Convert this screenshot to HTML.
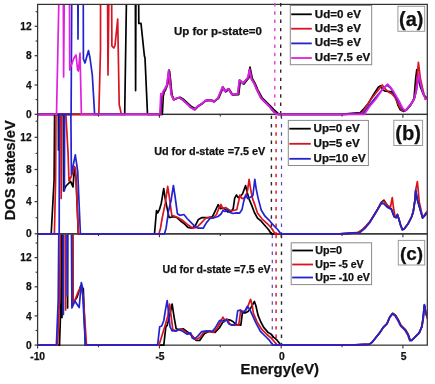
<!DOCTYPE html>
<html><head><meta charset="utf-8"><style>
html,body{margin:0;padding:0;background:#fff;}
svg{display:block;will-change:transform;}
text{font-family:"Liberation Sans",sans-serif;font-weight:bold;fill:#111;stroke:#111;stroke-width:0.25px;}
.tl{font-size:10px;}
.ax{font-size:13.5px;}
.an{font-size:11.5px;}
.an2{font-size:11px;}
.lg{font-size:10.5px;}
.lt{font-size:19px;}
</style></head><body>
<svg width="435" height="384" viewBox="0 0 435 384">
<rect width="435" height="384" fill="#fff"/>
<defs>
<clipPath id="clipa"><rect x="38.2" y="5.0" width="388.5" height="112.0"/></clipPath>
<clipPath id="clipb"><rect x="38.2" y="115.0" width="388.5" height="121.44999999999999"/></clipPath>
<clipPath id="clipc"><rect x="38.2" y="234.45" width="388.5" height="113.29999999999998"/></clipPath>
</defs>
<rect x="37.6" y="4.4" width="389.7" height="110.0" fill="none" stroke="#333333" stroke-width="1.25"/>
<rect x="37.6" y="114.4" width="389.7" height="119.44999999999999" fill="none" stroke="#333333" stroke-width="1.25"/>
<rect x="37.6" y="233.85" width="389.7" height="111.29999999999998" fill="none" stroke="#333333" stroke-width="1.25"/>
<line x1="274.8" y1="3.0" x2="274.8" y2="113.5" stroke="#e040e0" stroke-width="1.4" stroke-dasharray="3.4,4.9"/>
<line x1="280.7" y1="3.0" x2="280.7" y2="113.5" stroke="#2a2a2a" stroke-width="1.4" stroke-dasharray="3.4,4.9"/>
<line x1="271.4" y1="115.7" x2="271.4" y2="233.2" stroke="#2a2a2a" stroke-width="1.4" stroke-dasharray="3.4,4.9"/>
<line x1="276.1" y1="115.7" x2="276.1" y2="233.2" stroke="#e0303c" stroke-width="1.6" stroke-dasharray="3.4,4.9"/>
<line x1="281.5" y1="115.7" x2="281.5" y2="233.2" stroke="#4a4ad0" stroke-width="1.2" stroke-dasharray="3.4,4.9"/>
<line x1="272.3" y1="234.9" x2="272.3" y2="344.6" stroke="#4a4ad0" stroke-width="1.2" stroke-dasharray="3.4,4.9"/>
<line x1="276.1" y1="234.9" x2="276.1" y2="344.6" stroke="#e0303c" stroke-width="1.6" stroke-dasharray="3.4,4.9"/>
<line x1="281.5" y1="234.9" x2="281.5" y2="344.6" stroke="#2a2a2a" stroke-width="1.4" stroke-dasharray="3.4,4.9"/>
<g clip-path="url(#clipa)">
<polyline points="37.5,114.4 124.7,114.4 126.9,-30.0 135.3,-30.0 135.6,90.6 136.0,-30.0 138.5,-30.0 138.8,23.4 141.0,23.4 144.4,56.0 145.0,58.0 147.5,114.4 162.3,114.4 163.3,96.0 164.2,92.0 165.5,90.0 167.5,85.0 169.5,71.0 170.5,79.5 172.0,95.0 174.2,99.8 176.4,98.4 180.0,97.2 183.0,99.0 188.0,103.5 191.8,106.8 195.4,108.8 198.5,105.8 202.7,103.2 206.3,100.3 211.4,100.1 214.4,101.4 218.8,97.8 223.2,87.5 225.7,91.8 229.1,89.2 232.6,94.8 238.7,94.7 240.3,81.0 242.0,82.4 243.8,84.2 248.9,77.8 250.0,67.1 252.4,78.8 255.0,83.2 257.6,89.3 261.9,97.5 266.2,101.8 270.5,106.2 274.8,110.5 279.2,114.4 340.0,114.4 360.3,112.5 364.0,108.5 368.1,103.8 373.6,94.4 378.3,87.3 380.6,85.8 383.0,89.7 385.3,91.2 388.2,91.3 392.3,92.1 395.5,96.9 397.9,105.0 400.3,109.8 403.5,111.5 406.8,109.8 410.8,105.0 414.0,98.5 415.6,79.2 416.8,69.5 418.1,77.6 420.5,87.3 423.7,95.3 428.0,98.5" fill="none" stroke="#000000" stroke-width="1.7" stroke-linejoin="round" stroke-linecap="round"/>
<polyline points="37.5,114.4 98.8,114.4 100.5,50.0 100.6,-30.0 107.4,-30.0 108.0,75.0 109.2,-30.0 111.5,-30.0 111.9,46.0 113.8,48.0 115.0,45.5 117.7,19.0 119.2,104.5 121.4,114.4 161.0,114.4 161.8,99.0 162.5,95.0 164.0,91.3 165.5,89.0 167.5,84.5 169.2,70.2 170.2,79.0 171.6,94.5 173.8,99.5 176.0,98.8 179.6,97.8 182.6,99.6 187.7,104.0 191.3,107.6 195.0,109.8 197.9,106.6 202.3,103.7 205.9,100.7 211.0,100.3 214.0,101.8 218.4,98.3 223.0,87.1 225.3,91.4 228.7,88.8 232.2,94.5 238.2,94.0 239.9,80.2 241.6,81.9 243.4,83.6 248.5,77.6 249.9,69.0 252.0,79.3 254.6,83.6 257.2,89.7 261.5,98.3 265.8,102.6 270.1,106.9 274.4,112.1 278.3,114.4 345.0,114.4 361.9,113.0 366.0,107.0 371.3,99.0 375.5,93.5 379.8,88.1 382.2,85.0 385.3,88.9 388.4,92.0 392.0,94.0 395.0,97.5 397.5,102.5 399.8,107.5 402.5,110.8 405.5,110.5 409.0,106.5 412.5,102.0 415.0,97.0 416.6,84.0 418.4,62.3 420.3,78.0 422.5,88.0 425.3,99.4 428.0,96.5" fill="none" stroke="#d81420" stroke-width="1.7" stroke-linejoin="round" stroke-linecap="round"/>
<polyline points="37.5,114.4 71.1,114.4 71.9,-30.0 77.7,-30.0 78.0,39.0 78.4,-30.0 83.2,-30.0 83.4,59.0 85.0,63.0 88.5,50.6 90.0,58.0 92.3,75.0 93.5,95.0 94.6,114.4 160.5,114.4 161.2,98.0 162.0,95.0 163.5,91.5 165.0,89.0 167.0,84.5 168.8,70.0 169.8,79.0 171.3,94.5 173.5,99.5 175.6,98.8 179.2,97.8 182.2,99.6 187.3,104.0 190.9,107.6 194.6,109.8 197.5,106.6 201.9,103.7 205.5,100.7 210.6,100.3 213.6,101.8 218.0,98.3 222.6,87.1 224.9,91.4 228.3,88.8 231.8,94.5 237.8,94.0 239.5,80.2 241.2,81.9 243.0,83.6 248.1,77.6 249.5,69.5 251.6,79.3 254.2,83.6 256.8,89.7 261.1,98.3 265.4,102.6 269.7,106.9 274.0,112.1 277.5,114.4 345.0,114.4 363.4,113.5 368.0,107.0 374.4,99.0 382.2,89.7 386.9,85.0 390.4,87.8 393.7,92.8 397.0,99.0 399.5,103.0 402.0,108.5 404.5,110.8 407.0,108.8 410.5,104.6 414.0,99.6 416.5,90.0 418.5,75.5 420.5,84.0 423.0,93.0 425.3,98.0 428.0,99.0" fill="none" stroke="#2222d0" stroke-width="1.7" stroke-linejoin="round" stroke-linecap="round"/>
<polyline points="37.5,114.4 56.5,114.4 58.8,4.0 58.9,-30.0 63.2,-30.0 63.6,77.0 64.5,-30.0 69.4,-30.0 69.7,70.0 72.5,62.0 74.0,58.0 76.0,55.0 77.6,70.0 78.4,71.0 80.0,53.0 81.4,114.4 159.8,114.4 160.8,93.5 161.6,95.7 163.0,91.4 164.5,89.2 166.7,85.5 168.6,70.9 169.6,79.0 171.0,94.3 173.2,99.4 175.4,98.6 179.0,97.6 182.0,99.4 187.1,103.8 190.7,107.4 194.4,109.6 197.3,106.4 201.7,103.5 205.3,100.5 210.4,100.1 213.4,101.6 217.8,98.1 222.4,86.9 224.7,91.2 228.1,88.6 231.6,94.3 237.6,93.8 239.3,80.0 241.0,81.7 242.8,83.4 247.9,77.4 249.3,69.7 251.4,79.1 254.0,83.4 256.6,89.5 260.9,98.1 265.2,102.4 269.5,106.7 273.8,111.9 276.4,114.4 345.0,114.4 364.2,114.4 370.0,106.0 376.0,99.0 380.0,93.0 383.8,88.1 387.7,84.2 390.6,87.3 393.9,92.1 397.1,97.7 399.5,101.8 402.7,108.2 405.2,110.6 407.6,108.2 410.8,104.2 414.0,99.4 416.5,90.0 418.7,74.0 420.5,83.0 422.9,92.5 425.3,98.5 428.0,99.4" fill="none" stroke="#e020e0" stroke-width="1.7" stroke-linejoin="round" stroke-linecap="round"/>
</g>
<g clip-path="url(#clipb)">
<polyline points="37.5,233.8 51.2,233.8 54.1,180.0 54.6,114.0 54.8,-30.0 57.8,-30.0 58.5,150.0 59.1,-30.0 62.8,-30.0 63.6,191.0 66.0,186.0 70.6,181.4 73.0,186.9 74.5,166.6 76.2,180.0 78.3,233.8 154.5,233.8 156.5,210.5 157.7,212.9 159.4,209.7 161.3,203.2 163.7,188.7 165.3,199.2 167.4,209.7 169.0,217.3 171.0,217.3 173.4,216.6 176.6,217.3 180.6,221.0 184.7,224.2 187.9,227.4 191.9,228.2 195.2,225.8 198.4,219.4 201.6,217.7 205.6,217.7 208.2,217.6 212.3,216.8 215.5,210.3 218.2,204.7 220.3,208.7 222.7,207.9 225.6,209.5 227.6,211.9 230.8,211.6 233.2,208.7 234.7,198.1 236.5,195.0 238.1,197.6 240.4,196.0 242.5,194.0 245.6,185.6 247.2,192.4 249.3,199.7 251.9,205.9 254.4,212.5 257.5,218.1 261.2,221.2 265.6,226.2 268.8,230.0 271.2,233.8 340.0,233.8 358.0,232.8 362.0,230.0 366.0,226.0 370.0,221.5 374.0,215.0 377.6,209.2 381.3,202.5 384.0,200.2 387.7,206.5 391.4,209.0 394.1,216.5 396.0,217.5 397.4,214.5 398.7,218.6 400.6,225.1 402.4,229.7 404.3,228.7 407.9,224.1 411.6,216.8 413.2,212.0 414.8,201.5 415.7,191.0 417.4,200.0 419.3,206.5 422.6,218.0 425.0,215.5 428.0,212.0" fill="none" stroke="#000000" stroke-width="1.7" stroke-linejoin="round" stroke-linecap="round"/>
<polyline points="37.5,233.8 54.4,233.8 55.6,180.0 56.0,114.0 56.2,-30.0 60.3,-30.0 61.2,198.5 62.0,-30.0 65.6,-30.0 65.9,115.0 68.0,152.0 69.0,181.0 71.5,176.0 74.2,167.0 75.5,168.5 78.4,233.8 158.9,233.8 160.5,228.2 162.1,218.5 165.3,203.2 167.7,186.3 169.4,197.6 171.8,215.3 174.2,216.1 178.2,217.7 182.3,220.2 187.1,224.2 192.7,228.2 196.8,227.4 201.6,222.6 205.6,218.2 210.0,217.5 213.5,217.5 216.5,214.5 219.0,208.0 221.0,204.5 222.8,208.7 225.5,207.5 228.5,209.5 231.5,211.0 234.5,210.2 236.8,209.6 238.9,200.2 239.9,195.0 241.5,198.1 243.0,198.6 245.6,196.6 247.5,190.8 249.1,179.4 250.6,188.8 252.4,198.1 255.0,205.4 257.5,213.1 261.9,218.8 267.5,223.8 271.9,228.8 275.0,233.8 340.0,233.8 358.0,232.8 362.0,230.0 366.0,226.0 370.0,221.5 374.0,215.5 377.6,209.8 381.3,203.0 384.0,201.1 387.7,205.5 390.5,207.0 392.3,197.5 393.5,208.0 395.0,216.0 396.3,217.5 397.4,214.5 398.7,218.6 400.6,225.1 402.4,229.7 404.3,228.7 407.9,224.1 411.6,216.8 413.2,212.0 414.8,201.0 415.7,190.0 417.4,181.5 419.3,202.3 422.6,217.0 424.5,215.0 426.5,212.0 428.0,210.5" fill="none" stroke="#d81420" stroke-width="1.7" stroke-linejoin="round" stroke-linecap="round"/>
<polyline points="37.5,233.8 59.2,233.8 59.5,-30.0 63.6,-30.0 64.4,190.8 65.0,-30.0 69.6,-30.0 71.4,174.4 75.3,154.8 77.7,171.2 80.4,233.8 164.5,233.8 166.1,228.2 168.5,211.3 171.0,200.8 173.4,185.5 175.0,196.0 177.4,213.7 179.8,215.3 183.9,214.5 187.1,218.5 191.9,223.4 195.2,226.6 198.4,228.2 203.2,228.2 206.5,222.6 210.0,218.5 214.0,217.8 218.0,216.5 221.0,214.0 223.0,210.5 225.0,211.5 227.5,209.5 230.0,212.5 233.0,213.5 236.5,212.8 239.5,213.2 242.0,209.6 243.5,202.3 245.6,195.0 247.7,198.6 250.8,197.1 252.9,195.5 254.8,179.4 256.2,188.8 258.1,198.1 261.2,210.0 265.0,216.2 270.0,221.2 274.4,226.2 278.1,230.0 280.6,233.8 340.0,233.8 360.1,232.4 364.7,228.7 369.3,223.2 373.9,215.9 377.6,209.4 381.3,203.0 384.0,203.9 387.7,207.6 391.4,209.4 394.1,216.8 396.0,217.7 397.4,214.9 398.7,218.6 400.6,225.1 402.4,229.7 404.3,228.7 407.9,224.1 411.6,216.8 413.2,212.0 414.8,201.0 415.7,190.0 417.4,199.7 419.3,206.3 422.6,218.0 424.5,215.4 426.5,212.8 428.0,211.5" fill="none" stroke="#2222d0" stroke-width="1.7" stroke-linejoin="round" stroke-linecap="round"/>
</g>
<g clip-path="url(#clipc)">
<polyline points="37.5,345.1 59.5,345.1 61.0,300.0 61.4,250.0 61.5,-30.0 61.7,-30.0 62.0,317.5 62.4,-30.0 67.2,-30.0 67.6,308.0 68.0,-30.0 72.3,-30.0 72.9,303.3 77.1,297.1 80.8,285.6 83.3,288.8 85.4,345.1 163.8,345.1 164.9,335.0 165.9,326.7 167.2,325.3 169.3,317.1 172.1,304.0 174.1,317.1 176.2,328.8 179.0,329.5 183.1,328.8 187.2,331.6 191.4,335.0 196.2,340.5 199.7,340.5 204.5,333.6 210.0,331.1 215.0,332.3 219.3,328.0 223.6,320.8 226.5,319.4 230.1,320.1 232.9,321.5 235.8,324.4 240.8,325.1 242.5,312.2 245.1,312.9 248.0,311.5 250.8,307.9 254.4,301.5 255.9,305.8 258.0,315.1 260.9,322.2 263.7,327.4 268.2,332.6 270.8,333.9 273.5,337.1 276.7,339.7 279.3,343.0 280.6,345.1 350.0,345.1 369.7,344.2 372.5,341.8 376.1,337.2 379.8,332.6 383.5,327.1 387.2,323.4 389.9,317.0 392.7,313.3 395.5,315.1 398.2,319.7 401.0,325.3 405.6,329.9 408.3,334.5 410.2,340.0 412.0,340.0 415.7,336.3 419.4,332.6 422.1,326.2 423.4,317.4 424.5,305.5 426.2,314.0 428.0,319.5" fill="none" stroke="#000000" stroke-width="1.7" stroke-linejoin="round" stroke-linecap="round"/>
<polyline points="37.5,345.1 57.6,345.1 59.5,300.0 60.3,234.0 60.4,-30.0 64.9,-30.0 65.6,310.0 66.1,-30.0 71.5,-30.0 72.9,303.0 75.0,300.0 78.1,292.0 81.2,286.7 83.3,297.0 86.5,345.1 159.0,345.1 161.7,336.4 165.2,325.3 167.9,315.7 169.6,304.0 171.4,318.4 172.8,329.5 175.5,330.9 181.7,328.8 185.9,332.2 191.4,335.0 195.5,339.8 199.7,337.8 203.8,332.2 208.0,331.3 213.6,332.3 217.2,328.0 220.8,321.5 222.9,317.2 225.1,320.8 227.2,319.4 230.1,324.4 233.7,325.1 238.7,325.1 240.8,310.1 242.5,311.5 245.1,310.8 247.3,307.9 250.6,299.3 252.3,305.8 253.3,313.0 257.2,322.1 261.7,329.3 266.9,334.5 271.5,338.4 275.4,343.0 276.7,345.1 350.0,345.1 369.5,344.2 372.3,342.0 375.9,337.4 379.6,332.8 383.3,327.3 387.0,323.6 389.7,317.2 392.5,313.5 395.3,315.3 398.0,319.9 400.8,325.5 405.4,330.1 408.1,334.7 410.0,340.2 411.8,340.2 415.5,336.5 419.2,332.8 421.9,326.4 423.2,317.6 424.4,305.0 426.1,314.0 428.0,320.5" fill="none" stroke="#d81420" stroke-width="1.7" stroke-linejoin="round" stroke-linecap="round"/>
<polyline points="37.5,345.1 56.4,345.1 58.2,300.0 58.8,234.0 58.9,-30.0 62.6,-30.0 63.4,314.5 64.3,-30.0 66.3,-30.0 67.2,296.0 68.2,-30.0 69.9,-30.0 71.9,308.0 75.0,301.2 79.2,307.5 81.3,282.5 82.3,286.7 85.4,345.1 157.6,345.1 158.6,336.4 159.7,326.7 161.7,326.0 163.8,320.5 165.4,310.2 167.2,300.5 168.6,312.9 170.0,326.7 172.1,330.9 176.2,330.9 179.0,329.5 183.1,331.6 187.2,334.3 190.7,332.9 192.1,337.8 194.1,339.1 197.6,336.4 201.7,331.6 206.6,330.9 212.2,331.5 215.7,327.2 219.3,320.8 221.0,320.1 223.6,322.2 226.2,319.4 228.6,323.7 231.5,325.1 235.8,324.4 237.7,310.8 240.1,310.1 242.0,312.2 244.8,311.5 247.3,306.5 248.7,307.9 250.1,310.1 252.6,315.6 255.9,322.8 260.4,331.3 265.6,336.5 269.5,340.4 272.8,345.1 350.0,345.1 369.3,344.3 372.1,342.4 375.7,337.8 379.4,333.2 383.1,327.7 386.8,324.0 389.5,317.6 392.3,313.9 395.1,315.7 397.8,320.3 400.6,325.9 405.2,330.5 407.9,335.1 409.8,340.6 411.6,340.6 415.3,336.9 419.0,333.2 421.7,326.8 423.0,318.0 424.3,304.5 426.0,313.5 428.0,319.0" fill="none" stroke="#2222d0" stroke-width="1.7" stroke-linejoin="round" stroke-linecap="round"/>
</g>
<line x1="34.6" y1="114.3" x2="37.6" y2="114.3" stroke="#333333" stroke-width="1.2"/>
<text x="31.6" y="117.9" text-anchor="end" font-size="10.2">0</text>
<line x1="35.6" y1="99.6" x2="37.6" y2="99.6" stroke="#333333" stroke-width="1.1"/>
<line x1="34.6" y1="85.0" x2="37.6" y2="85.0" stroke="#333333" stroke-width="1.2"/>
<text x="31.6" y="88.6" text-anchor="end" font-size="10.2">4</text>
<line x1="35.6" y1="70.3" x2="37.6" y2="70.3" stroke="#333333" stroke-width="1.1"/>
<line x1="34.6" y1="55.7" x2="37.6" y2="55.7" stroke="#333333" stroke-width="1.2"/>
<text x="31.6" y="59.3" text-anchor="end" font-size="10.2">8</text>
<line x1="35.6" y1="41.0" x2="37.6" y2="41.0" stroke="#333333" stroke-width="1.1"/>
<line x1="34.6" y1="26.3" x2="37.6" y2="26.3" stroke="#333333" stroke-width="1.2"/>
<text x="31.6" y="29.9" text-anchor="end" font-size="10.2">12</text>
<line x1="35.6" y1="11.7" x2="37.6" y2="11.7" stroke="#333333" stroke-width="1.1"/>
<line x1="34.6" y1="233.8" x2="37.6" y2="233.8" stroke="#333333" stroke-width="1.2"/>
<text x="31.6" y="237.4" text-anchor="end" font-size="10.2">0</text>
<line x1="35.6" y1="217.7" x2="37.6" y2="217.7" stroke="#333333" stroke-width="1.1"/>
<line x1="34.6" y1="201.6" x2="37.6" y2="201.6" stroke="#333333" stroke-width="1.2"/>
<text x="31.6" y="205.2" text-anchor="end" font-size="10.2">4</text>
<line x1="35.6" y1="185.6" x2="37.6" y2="185.6" stroke="#333333" stroke-width="1.1"/>
<line x1="34.6" y1="169.5" x2="37.6" y2="169.5" stroke="#333333" stroke-width="1.2"/>
<text x="31.6" y="173.1" text-anchor="end" font-size="10.2">8</text>
<line x1="35.6" y1="153.4" x2="37.6" y2="153.4" stroke="#333333" stroke-width="1.1"/>
<line x1="34.6" y1="137.3" x2="37.6" y2="137.3" stroke="#333333" stroke-width="1.2"/>
<text x="31.6" y="140.9" text-anchor="end" font-size="10.2">12</text>
<line x1="35.6" y1="121.2" x2="37.6" y2="121.2" stroke="#333333" stroke-width="1.1"/>
<line x1="34.6" y1="345.1" x2="37.6" y2="345.1" stroke="#333333" stroke-width="1.2"/>
<text x="31.6" y="348.7" text-anchor="end" font-size="10.2">0</text>
<line x1="35.6" y1="330.5" x2="37.6" y2="330.5" stroke="#333333" stroke-width="1.1"/>
<line x1="34.6" y1="315.9" x2="37.6" y2="315.9" stroke="#333333" stroke-width="1.2"/>
<text x="31.6" y="319.5" text-anchor="end" font-size="10.2">4</text>
<line x1="35.6" y1="301.4" x2="37.6" y2="301.4" stroke="#333333" stroke-width="1.1"/>
<line x1="34.6" y1="286.8" x2="37.6" y2="286.8" stroke="#333333" stroke-width="1.2"/>
<text x="31.6" y="290.4" text-anchor="end" font-size="10.2">8</text>
<line x1="35.6" y1="272.2" x2="37.6" y2="272.2" stroke="#333333" stroke-width="1.1"/>
<line x1="34.6" y1="257.6" x2="37.6" y2="257.6" stroke="#333333" stroke-width="1.2"/>
<text x="31.6" y="261.2" text-anchor="end" font-size="10.2">12</text>
<line x1="35.6" y1="243.0" x2="37.6" y2="243.0" stroke="#333333" stroke-width="1.1"/>
<line x1="37.6" y1="114.4" x2="37.6" y2="117.7" stroke="#333333" stroke-width="1.1"/>
<line x1="98.5" y1="114.4" x2="98.5" y2="116.60000000000001" stroke="#333333" stroke-width="1.1"/>
<line x1="159.4" y1="114.4" x2="159.4" y2="117.7" stroke="#333333" stroke-width="1.1"/>
<line x1="220.3" y1="114.4" x2="220.3" y2="116.60000000000001" stroke="#333333" stroke-width="1.1"/>
<line x1="281.2" y1="114.4" x2="281.2" y2="117.7" stroke="#333333" stroke-width="1.1"/>
<line x1="342.1" y1="114.4" x2="342.1" y2="116.60000000000001" stroke="#333333" stroke-width="1.1"/>
<line x1="402.9" y1="114.4" x2="402.9" y2="117.7" stroke="#333333" stroke-width="1.1"/>
<line x1="37.6" y1="233.85" x2="37.6" y2="237.15" stroke="#333333" stroke-width="1.1"/>
<line x1="98.5" y1="233.85" x2="98.5" y2="236.04999999999998" stroke="#333333" stroke-width="1.1"/>
<line x1="159.4" y1="233.85" x2="159.4" y2="237.15" stroke="#333333" stroke-width="1.1"/>
<line x1="220.3" y1="233.85" x2="220.3" y2="236.04999999999998" stroke="#333333" stroke-width="1.1"/>
<line x1="281.2" y1="233.85" x2="281.2" y2="237.15" stroke="#333333" stroke-width="1.1"/>
<line x1="342.1" y1="233.85" x2="342.1" y2="236.04999999999998" stroke="#333333" stroke-width="1.1"/>
<line x1="402.9" y1="233.85" x2="402.9" y2="237.15" stroke="#333333" stroke-width="1.1"/>
<line x1="37.6" y1="345.15" x2="37.6" y2="348.45" stroke="#333333" stroke-width="1.1"/>
<line x1="98.5" y1="345.15" x2="98.5" y2="347.34999999999997" stroke="#333333" stroke-width="1.1"/>
<line x1="159.4" y1="345.15" x2="159.4" y2="348.45" stroke="#333333" stroke-width="1.1"/>
<line x1="220.3" y1="345.15" x2="220.3" y2="347.34999999999997" stroke="#333333" stroke-width="1.1"/>
<line x1="281.2" y1="345.15" x2="281.2" y2="348.45" stroke="#333333" stroke-width="1.1"/>
<line x1="342.1" y1="345.15" x2="342.1" y2="347.34999999999997" stroke="#333333" stroke-width="1.1"/>
<line x1="402.9" y1="345.15" x2="402.9" y2="348.45" stroke="#333333" stroke-width="1.1"/>
<text x="37.65" y="359.8" text-anchor="middle" font-size="10.3">-10</text>
<text x="160.0" y="359.8" text-anchor="middle" font-size="10.3">-5</text>
<text x="281.85" y="359.8" text-anchor="middle" font-size="10.3">0</text>
<text x="403.6" y="359.8" text-anchor="middle" font-size="10.3">5</text>
<text x="240.59" y="374.10" font-size="14" textLength="78.42" lengthAdjust="spacingAndGlyphs" >Energy(eV)</text>
<g transform="translate(15,0) rotate(-90)"><text x="-220.19" y="0.00" font-size="14" textLength="99.86" lengthAdjust="spacingAndGlyphs" >DOS states/eV</text></g>
<text x="173.93" y="34.70" font-size="11.2" textLength="88.00" lengthAdjust="spacingAndGlyphs" >Up for p-state=0</text>
<text x="154.15" y="154.50" font-size="11.6" textLength="111.18" lengthAdjust="spacingAndGlyphs" >Ud for d-state =7.5 eV</text>
<text x="162.59" y="272.90" font-size="11.2" textLength="107.94" lengthAdjust="spacingAndGlyphs" >Ud for d-state =7.5 eV</text>
<rect x="290.3" y="5.5" width="81.39999999999998" height="59.2" fill="#fff" stroke="#8a8a8a" stroke-width="1"/>
<line x1="291.2" y1="14.3" x2="311.8" y2="14.3" stroke="#000000" stroke-width="1.8"/>
<text x="314.81" y="17.80" font-size="10.9" textLength="46.12" lengthAdjust="spacingAndGlyphs" >Ud=0 eV</text>
<line x1="291.2" y1="28.7" x2="311.8" y2="28.7" stroke="#d81420" stroke-width="1.8"/>
<text x="314.81" y="31.90" font-size="10.9" textLength="46.12" lengthAdjust="spacingAndGlyphs" >Ud=3 eV</text>
<line x1="291.2" y1="43.4" x2="311.8" y2="43.4" stroke="#2222d0" stroke-width="1.8"/>
<text x="314.81" y="45.90" font-size="10.9" textLength="46.12" lengthAdjust="spacingAndGlyphs" >Ud=5 eV</text>
<line x1="291.2" y1="58.0" x2="311.8" y2="58.0" stroke="#e020e0" stroke-width="1.8"/>
<text x="314.81" y="60.50" font-size="10.9" textLength="55.50" lengthAdjust="spacingAndGlyphs" >Ud=7.5 eV</text>
<rect x="288.3" y="120.4" width="80.09999999999997" height="45.099999999999994" fill="#fff" stroke="#8a8a8a" stroke-width="1"/>
<line x1="289.3" y1="128.7" x2="310.8" y2="128.7" stroke="#000000" stroke-width="1.8"/>
<text x="313.59" y="132.20" font-size="10.7" textLength="46.14" lengthAdjust="spacingAndGlyphs" >Up=0 eV</text>
<line x1="289.3" y1="143.8" x2="310.8" y2="143.8" stroke="#d81420" stroke-width="1.8"/>
<text x="313.59" y="147.00" font-size="10.7" textLength="46.14" lengthAdjust="spacingAndGlyphs" >Up=5 eV</text>
<line x1="289.3" y1="158.8" x2="310.8" y2="158.8" stroke="#2222d0" stroke-width="1.8"/>
<text x="313.60" y="161.80" font-size="10.7" textLength="52.03" lengthAdjust="spacingAndGlyphs" >Up=10 eV</text>
<rect x="291.2" y="242.8" width="80.40000000000003" height="41.80000000000001" fill="#fff" stroke="#8a8a8a" stroke-width="1"/>
<line x1="292.2" y1="250.5" x2="313" y2="250.5" stroke="#000000" stroke-width="1.8"/>
<text x="315.36" y="254.20" font-size="10.0" textLength="26.56" lengthAdjust="spacingAndGlyphs" >Up=0</text>
<line x1="292.2" y1="264.5" x2="313" y2="264.5" stroke="#d81420" stroke-width="1.8"/>
<text x="315.37" y="267.70" font-size="10.0" textLength="48.24" lengthAdjust="spacingAndGlyphs" >Up= -5 eV</text>
<line x1="292.2" y1="277.5" x2="313" y2="277.5" stroke="#2222d0" stroke-width="1.8"/>
<text x="315.36" y="280.70" font-size="10.0" textLength="54.56" lengthAdjust="spacingAndGlyphs" >Up= -10 eV</text>
<rect x="397.9" y="6.3" width="26.80000000000001" height="25.0" fill="#fff" stroke="#9a9a9a" stroke-width="1"/>
<text x="399.00" y="26.30" font-size="20" textLength="24.44" lengthAdjust="spacingAndGlyphs" >(a)</text>
<rect x="393.8" y="120.3" width="28.80000000000001" height="25.200000000000003" fill="#fff" stroke="#9a9a9a" stroke-width="1"/>
<text x="395.22" y="140.00" font-size="19.5" textLength="25.77" lengthAdjust="spacingAndGlyphs" >(b)</text>
<rect x="398.3" y="240.4" width="26.399999999999977" height="24.599999999999994" fill="#fff" stroke="#9a9a9a" stroke-width="1"/>
<text x="399.95" y="259.70" font-size="19" textLength="23.11" lengthAdjust="spacingAndGlyphs" >(c)</text>
</svg>
</body></html>
